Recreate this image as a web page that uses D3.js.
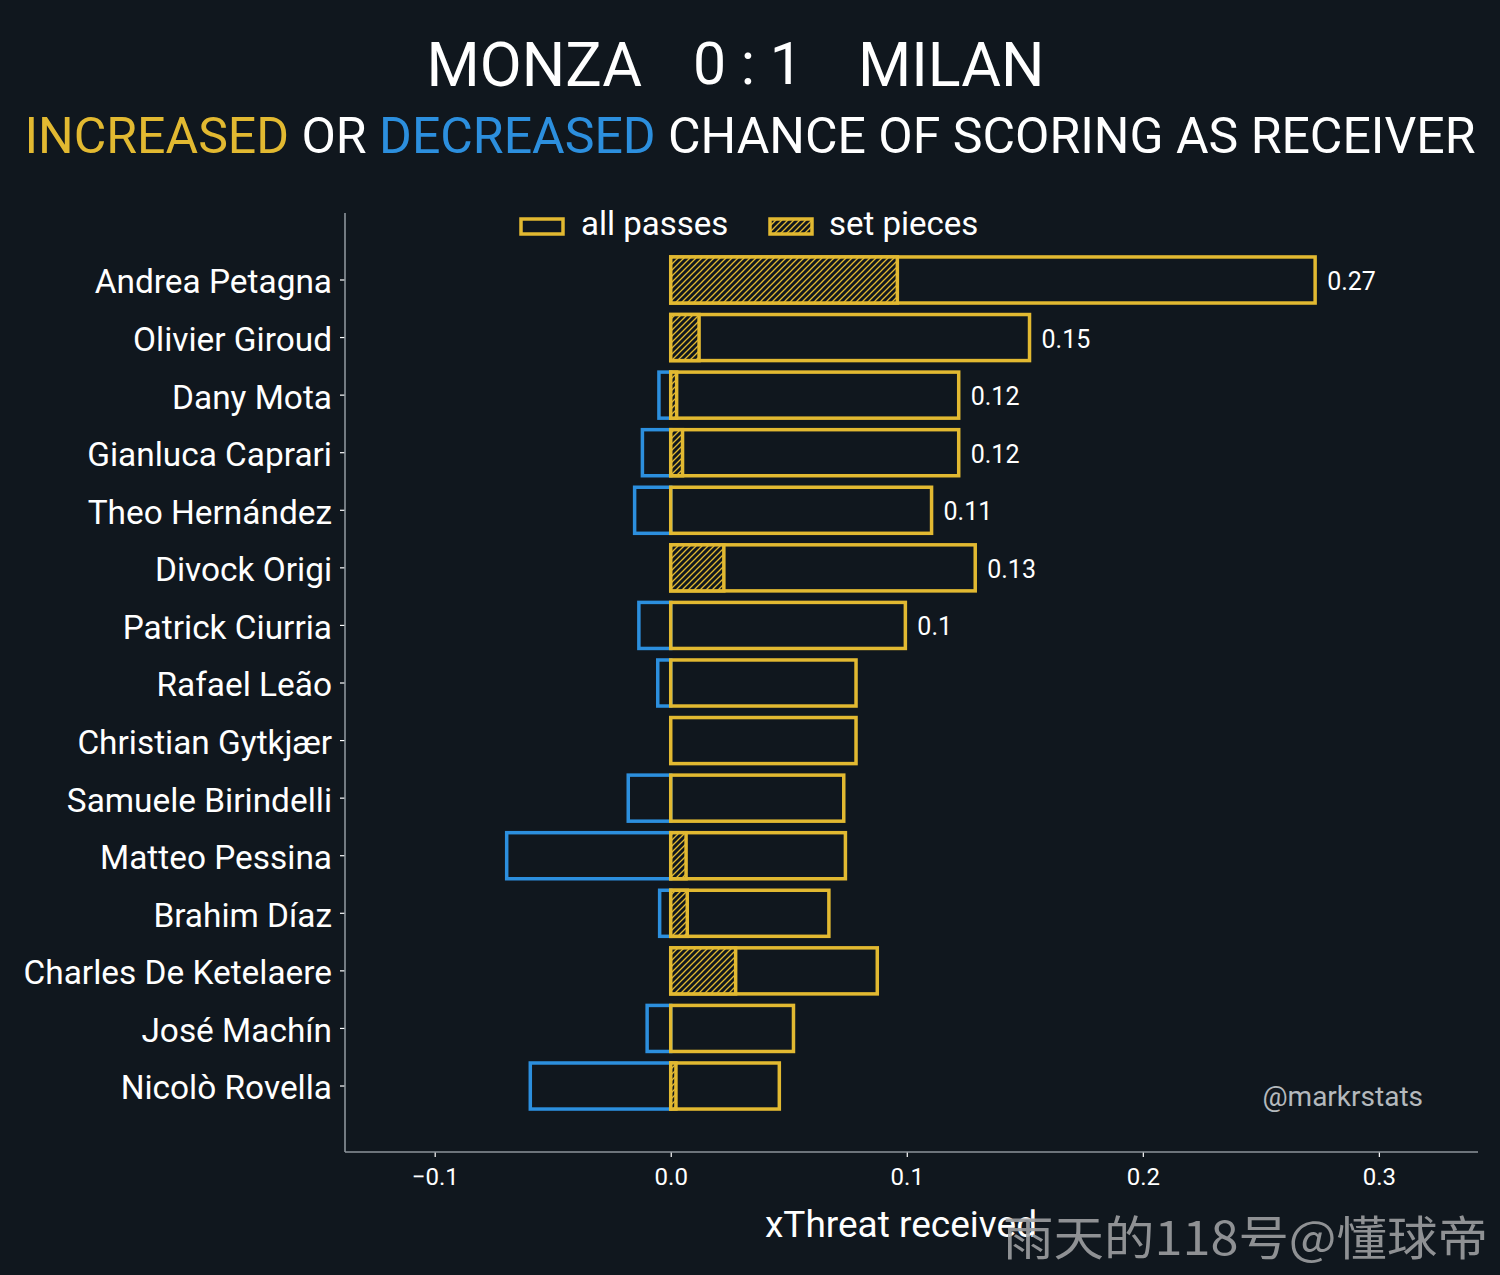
<!DOCTYPE html>
<html>
<head>
<meta charset="utf-8">
<script src="https://cdn.jsdelivr.net/npm/d3@7"></script>
<style>
  html, body { margin: 0; padding: 0; background: #10171e; }
  svg { display: block; font-family: Roboto, "Noto Sans", sans-serif; }
</style>
</head>
<body>
<div id="chart"></div>
<script>
// DATA
var players = [
  "Andrea Petagna", "Olivier Giroud", "Dany Mota", "Gianluca Caprari",
  "Theo Hernández", "Divock Origi", "Patrick Ciurria", "Rafael Leão",
  "Christian Gytkjær", "Samuele Birindelli", "Matteo Pessina", "Brahim Díaz",
  "Charles De Ketelaere", "José Machín", "Nicolò Rovella"
];
// xThreat gained as receiver, all passes
var allPasses = [0.273, 0.152, 0.122, 0.122, 0.1105, 0.129, 0.0994, 0.0785,
  0.0785, 0.0733, 0.074, 0.067, 0.0875, 0.052, 0.046];
// xThreat gained from set pieces
var setPieces = [0.096, 0.012, 0.0025, 0.005, 0, 0.0225, 0, 0,
  0, 0, 0.0065, 0.007, 0.0275, 0, 0.0022];
// xThreat lost as receiver
var lost = [0, 0, -0.005, -0.012, -0.0153, 0, -0.0135, -0.0055,
  0, -0.018, -0.0695, -0.0047, 0, -0.010, -0.0595];
var xTicks = [-0.1, 0.0, 0.1, 0.2, 0.3];

var rows = players.map(function (p, i) {
  return { name: p, all: allPasses[i], sp: setPieces[i], neg: lost[i] };
});

// COLOURS
var bg = "#10171e";
var yellow = "#e2b931";
var blue = "#2c8fde";
var spine = "#8c959b";

var W = 1500, H = 1275;
var svg = d3.select("#chart").append("svg")
  .attr("width", W)
  .attr("height", H);

svg.append("rect").attr("width", W).attr("height", H).attr("fill", bg);

// hatch pattern for set pieces
var defs = svg.append("defs");
var pat = defs.append("pattern")
  .attr("id", "hatch")
  .attr("patternUnits", "userSpaceOnUse")
  .attr("width", 6)
  .attr("height", 6);
pat.append("rect").attr("width", 6).attr("height", 6).attr("fill", bg);
pat.append("path")
  .attr("d", "M-1,1 l2,-2 M0,6 l6,-6 M5,7 l2,-2")
  .attr("stroke", yellow)
  .attr("stroke-width", 1.3);

// SCALES
var x = d3.scaleLinear()
  .domain([-0.138, 0.342])
  .range([345, 1478]);

var y = d3.scaleBand()
  .domain(players)
  .range([251.2, 1114.8])
  .paddingInner(0.2)
  .paddingOuter(0.1);

var axisTop = 213, axisBottom = 1152;

// TITLES
svg.append("text")
  .attr("x", 642).attr("y", 86)
  .attr("text-anchor", "end")
  .attr("fill", "#ffffff")
  .attr("font-size", 61)
  .text("MONZA");
svg.append("text")
  .attr("x", 748).attr("y", 84)
  .attr("text-anchor", "middle")
  .attr("fill", "#ffffff")
  .attr("font-size", 59)
  .text("0 : 1");
svg.append("text")
  .attr("x", 858).attr("y", 86)
  .attr("text-anchor", "start")
  .attr("fill", "#ffffff")
  .attr("font-size", 61)
  .text("MILAN");

var sub = svg.append("text")
  .attr("x", 750).attr("y", 153)
  .attr("text-anchor", "middle")
  .attr("font-size", 50)
  .attr("fill", "#ffffff");
sub.append("tspan").attr("fill", yellow).text("INCREASED");
sub.append("tspan").text(" OR ");
sub.append("tspan").attr("fill", blue).text("DECREASED");
sub.append("tspan").text(" CHANCE OF SCORING AS RECEIVER");

// AXES
var g = svg.append("g");

var xAxis = g.append("g")
  .attr("transform", "translate(0," + axisBottom + ")")
  .call(d3.axisBottom(x).tickValues(xTicks).tickFormat(d3.format(".1f")).tickSize(5).tickPadding(11));
xAxis.select(".domain").remove();
xAxis.selectAll(".tick line").attr("stroke", "#ffffff").attr("stroke-width", 1.2);
xAxis.selectAll(".tick text")
  .attr("fill", "#ffffff")
  .attr("font-size", 24)
  .attr("font-family", "Roboto");

var yAxis = g.append("g")
  .attr("transform", "translate(345,0)")
  .call(d3.axisLeft(y).tickSize(5).tickPadding(8));
yAxis.select(".domain").remove();
yAxis.selectAll(".tick line").attr("stroke", "#ffffff").attr("stroke-width", 1.2);
yAxis.selectAll(".tick text")
  .attr("fill", "#ffffff")
  .attr("font-size", 33.4)
  .attr("dy", "0.4em")
  .attr("font-family", "Roboto");

// spines
g.append("line")
  .attr("x1", 345).attr("x2", 345)
  .attr("y1", axisTop).attr("y2", axisBottom)
  .attr("stroke", spine).attr("stroke-width", 1.6);
g.append("line")
  .attr("x1", 345).attr("x2", 1478)
  .attr("y1", axisBottom).attr("y2", axisBottom)
  .attr("stroke", spine).attr("stroke-width", 1.6);

svg.append("text")
  .attr("x", 901).attr("y", 1237)
  .attr("text-anchor", "middle")
  .attr("fill", "#ffffff")
  .attr("font-size", 37)
  .text("xThreat received");

// BARS
var sw = 3.5;
var bars = g.append("g");

// decreased (blue) first so yellow sits on top at zero
bars.selectAll(".neg")
  .data(rows.filter(function (d) { return d.neg < 0; }))
  .enter().append("rect")
  .attr("class", "neg")
  .attr("x", function (d) { return x(d.neg); })
  .attr("y", function (d) { return y(d.name); })
  .attr("width", function (d) { return x(0) - x(d.neg); })
  .attr("height", y.bandwidth())
  .attr("fill", "none")
  .attr("stroke", blue)
  .attr("stroke-width", sw);

bars.selectAll(".all")
  .data(rows)
  .enter().append("rect")
  .attr("class", "all")
  .attr("x", x(0))
  .attr("y", function (d) { return y(d.name); })
  .attr("width", function (d) { return x(d.all) - x(0); })
  .attr("height", y.bandwidth())
  .attr("fill", "none")
  .attr("stroke", yellow)
  .attr("stroke-width", sw);

bars.selectAll(".sp")
  .data(rows.filter(function (d) { return d.sp > 0; }))
  .enter().append("rect")
  .attr("class", "sp")
  .attr("x", x(0))
  .attr("y", function (d) { return y(d.name); })
  .attr("width", function (d) { return x(d.sp) - x(0); })
  .attr("height", y.bandwidth())
  .attr("fill", "url(#hatch)")
  .attr("stroke", yellow)
  .attr("stroke-width", sw);

// value labels for the bigger bars
var fmt = function (v) { return String(+v.toFixed(2)); };
bars.selectAll(".val")
  .data(rows.filter(function (d) { return d.all >= 0.095; }))
  .enter().append("text")
  .attr("class", "val")
  .attr("x", function (d) { return x(d.all) + 12; })
  .attr("y", function (d) { return y(d.name) + y.bandwidth() / 2; })
  .attr("dy", "0.4em")
  .attr("fill", "#ffffff")
  .attr("font-size", 25)
  .text(function (d) { return fmt(d.all); });

// LEGEND
var leg = svg.append("g");
leg.append("rect")
  .attr("x", 521).attr("y", 219).attr("width", 42).attr("height", 15)
  .attr("fill", "none").attr("stroke", yellow).attr("stroke-width", sw);
leg.append("text")
  .attr("x", 581).attr("y", 235)
  .attr("fill", "#ffffff").attr("font-size", 33)
  .text("all passes");
leg.append("rect")
  .attr("x", 770).attr("y", 219).attr("width", 42).attr("height", 15)
  .attr("fill", "url(#hatch)").attr("stroke", yellow).attr("stroke-width", sw);
leg.append("text")
  .attr("x", 829).attr("y", 235)
  .attr("fill", "#ffffff").attr("font-size", 33)
  .text("set pieces");

// credits
svg.append("text")
  .attr("x", 1423).attr("y", 1106)
  .attr("text-anchor", "end")
  .attr("fill", "#b4b9bd")
  .attr("font-size", 28)
  .text("@markrstats");

svg.append("text")
  .attr("x", 1003).attr("y", 1255)
  .attr("text-anchor", "start")
  .attr("fill", "#9a9c9e")
  .attr("fill-opacity", 0.92)
  .attr("font-family", "'Noto Sans CJK SC', sans-serif")
  .attr("font-size", 47)
  .attr("textLength", 485)
  .attr("lengthAdjust", "spacingAndGlyphs")
  .text("雨天的118号@懂球帝");
</script>
</body>
</html>
